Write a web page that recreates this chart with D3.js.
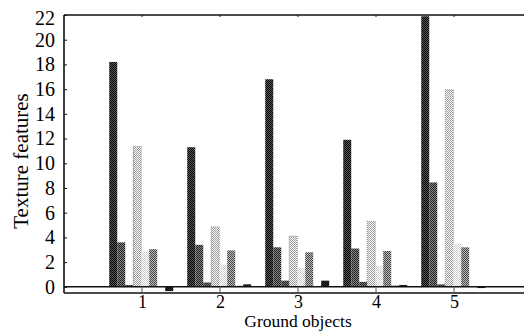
<!DOCTYPE html>
<html><head><meta charset="utf-8">
<script src="https://cdn.jsdelivr.net/npm/d3@7"></script>
<style>
body{margin:0;background:#fff;}
svg text{font-family:"Liberation Serif","Times New Roman",serif;fill:#000;}
</style></head>
<body><svg id="c" width="524" height="331"></svg>
<script>
const categories = [1, 2, 3, 4, 5];
const s1 = [18.2, 11.3, 16.8, 11.9, 21.9];
const s2 = [3.6, 3.4, 3.2, 3.1, 8.45];
const s3 = [0.15, 0.35, 0.5, 0.4, 0.2];
const s4 = [11.35, 4.85, 4.1, 5.3, 15.95];
const s5 = [2.85, 1.8, 1.55, 1.7, 3.5];
const s6 = [3.05, 2.95, 2.8, 2.9, 3.2];
const s7 = [0.05, 0.08, 0.05, 0.1, 0.05];
const s8 = [-0.35, 0.2, 0.5, 0.15, -0.1];
const seriesList = [s1, s2, s3, s4, s5, s6, s7, s8];
const seriesNames = ["s1","s2","s3","s4","s5","s6","s7","s8"];
const yTicks = [0, 2, 4, 6, 8, 10, 12, 14, 16, 18, 20, 22];

const patterns = {
  s1: ["#000", "#5a5a5a"],
  s2: ["#1e1e1e", "#8a8a8a"],
  s3: ["#222", "#777"],
  s4: ["#9a9a9a", "#fff"],
  s5: ["#d0d0d0", "#fff"],
  s6: ["#444", "#bdbdbd"],
  s7: ["#222", "#888"],
  s8: ["#000", "#333"]
};
const serif = '"Liberation Serif","Times New Roman",serif';

const svg = d3.select("#c");
const defs = svg.append("defs");
seriesNames.forEach(n => {
  const p = defs.append("pattern").attr("id", "p" + n).attr("patternUnits", "userSpaceOnUse")
    .attr("width", 2).attr("height", 2);
  p.append("rect").attr("width", 2).attr("height", 2).attr("fill", patterns[n][1]);
  p.append("rect").attr("width", 1).attr("height", 1).attr("fill", patterns[n][0]);
  p.append("rect").attr("x", 1).attr("y", 1).attr("width", 1).attr("height", 1).attr("fill", patterns[n][0]);
});

const x = d3.scaleLinear().domain([0, 6]).range([64, 532]);
const y = d3.scaleLinear().domain([-0.5, 22]).range([293, 15]);
const inner = d3.scaleBand().domain(seriesNames).range([-0.42, 0.40]);

const data = [];
categories.forEach((c, ci) => {
  seriesNames.forEach((n, si) => data.push({c, n, v: seriesList[si][ci]}));
});

svg.append("g").selectAll("rect").data(data).join("rect")
  .attr("x", d => x(d.c + inner(d.n)))
  .attr("width", d => x(d.c + inner(d.n) + inner.bandwidth()) - x(d.c + inner(d.n)))
  .attr("y", d => y(Math.max(0, d.v)))
  .attr("height", d => Math.abs(y(d.v) - y(0)))
  .attr("fill", d => `url(#p${d.n})`)
  .attr("stroke", d => d.n === "s4" ? "#777" : "none")
  .attr("stroke-width", 0.8)
  .attr("stroke-dasharray", "1,1");

// frame
const frame = svg.append("g").attr("stroke", "#111").attr("fill", "none");
frame.append("line").attr("x1", x(0)).attr("x2", x(6)).attr("y1", y(22)).attr("y2", y(22)).attr("stroke-width", 1.6);
frame.append("line").attr("x1", x(0)).attr("x2", x(6)).attr("y1", y(0)).attr("y2", y(0)).attr("stroke-width", 1.4);
frame.append("line").attr("x1", x(0)).attr("x2", x(6)).attr("y1", y(-0.5)).attr("y2", y(-0.5)).attr("stroke-width", 1.6);
frame.append("line").attr("x1", x(0)).attr("x2", x(0)).attr("y1", y(22)).attr("y2", y(-0.5)).attr("stroke-width", 1.6);

// y axis
const yAxis = d3.axisLeft(y).tickValues(yTicks).tickSizeInner(-3).tickSizeOuter(0).tickPadding(9);
const gy = svg.append("g").attr("transform", `translate(${x(0)},0)`).call(yAxis)
  .attr("font-family", serif).attr("font-size", 20);
gy.select(".domain").remove();
gy.selectAll("line").attr("stroke", "#111");
gy.selectAll("text").attr("fill", "#000");
gy.selectAll(".tick").filter(d => d === 22).select("text").attr("dy", "0.45em");

// x axis
const xAxis = d3.axisBottom(x).tickValues(categories).tickSize(0).tickPadding(2).tickFormat(d3.format("d"));
const gx = svg.append("g").attr("transform", `translate(0,${y(-0.5)})`).call(xAxis)
  .attr("font-family", serif).attr("font-size", 18);
gx.select(".domain").remove();
gx.selectAll("text").attr("fill", "#000");
svg.append("g").selectAll("line").data(categories).join("line")
  .attr("x1", d => x(d)).attr("x2", d => x(d)).attr("y1", y(-0.5)).attr("y2", y(0))
  .attr("stroke", "#555").attr("stroke-width", 1);
svg.append("g").selectAll("line").data(categories).join("line")
  .attr("x1", d => x(d)).attr("x2", d => x(d)).attr("y1", y(22)).attr("y2", y(22) + 2)
  .attr("stroke", "#111").attr("stroke-width", 1);

svg.append("text").attr("x", 298).attr("y", 327).attr("text-anchor", "middle")
  .attr("font-size", 17.5).text("Ground objects");
svg.append("text").attr("transform", "translate(28,161) rotate(-90)").attr("text-anchor", "middle")
  .attr("font-size", 21).text("Texture features");
</script></body></html>
